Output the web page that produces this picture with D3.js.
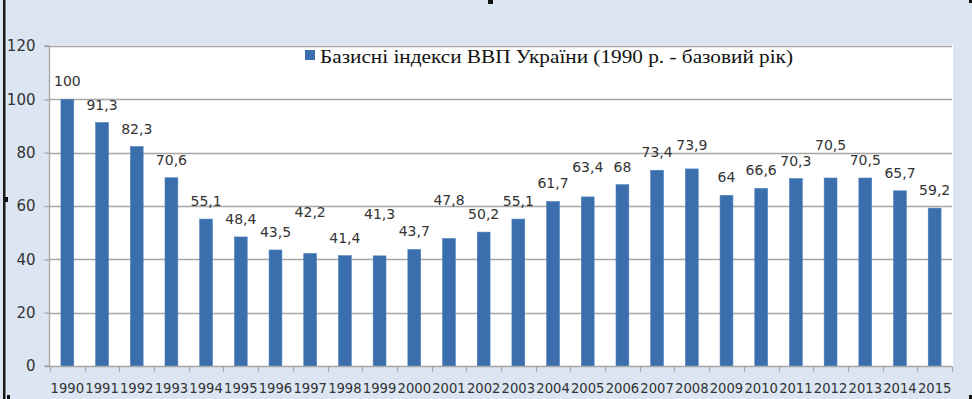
<!DOCTYPE html>
<html><head><meta charset="utf-8">
<script src="https://cdn.jsdelivr.net/npm/d3@7/dist/d3.min.js"></script>
<style>html,body{margin:0;padding:0;background:#dce6f2;overflow:hidden}</style>
</head><body>
<svg id="c" width="972" height="399"></svg>
<script>
const years = ["1990","1991","1992","1993","1994","1995","1996","1997","1998","1999","2000","2001","2002","2003","2004","2005","2006","2007","2008","2009","2010","2011","2012","2013","2014","2015"];
const values = [100,91.3,82.3,70.6,55.1,48.4,43.5,42.2,41.4,41.3,43.7,47.8,50.2,55.1,61.7,63.4,68,73.4,73.9,64,66.6,70.3,70.5,70.5,65.7,59.2];
const yTicks = [0,20,40,60,80,100,120];
const seriesName = "Базисні індекси ВВП України (1990 р. - базовий рік)";

// manual label lifts (px) as dragged in the original chart
const labelLift = {"1997":23,"1999":24,"2001":21,"2005":12,"2008":6,"2012":15};

const svg = d3.select("#c");
const W = 972, H = 399;
const L = 50, R = 952, T = 46, B = 366;
const sans = "DejaVu Sans, Verdana, sans-serif";

svg.append("rect").attr("width",W).attr("height",H).attr("fill","#dce6f2");
svg.append("rect").attr("x",L).attr("y",45).attr("width",R-L+1).attr("height",B-45).attr("fill","#ffffff");

const x = d3.scaleBand().domain(years).range([L,R]).paddingInner(0.63).paddingOuter(0.315);
const xs = d3.scaleBand().domain(years).range([L,R]).padding(0);
const y = d3.scaleLinear().domain([0,120]).range([B,T]);

// gridlines
svg.append("g").selectAll("line").data(yTicks.filter(d=>d>0)).join("line")
  .attr("x1",L).attr("x2",R).attr("y1",d=>Math.round(y(d))+0.5).attr("y2",d=>Math.round(y(d))+0.5)
  .attr("stroke","#a6a6a6").attr("stroke-width",1.3);

// bars
svg.append("g").selectAll("rect").data(values).join("rect")
  .attr("x",(d,i)=>x(years[i])).attr("width",x.bandwidth())
  .attr("y",d=>y(d)).attr("height",d=>B-y(d))
  .attr("fill","#3a6eac").attr("stroke","#4f81bd").attr("stroke-width",0.6);

// y axis
const ya = svg.append("g").attr("transform",`translate(${L-0.5},0)`)
  .call(d3.axisLeft(y).tickValues(yTicks).tickSize(5).tickPadding(9));
ya.select(".domain").attr("stroke","#a6a6a6").attr("stroke-width",1.3).attr("d",`M-5,${B}H0V${T}H-5`);
ya.selectAll(".tick line").attr("stroke","#a6a6a6").attr("stroke-width",1.3);
ya.selectAll(".tick text").attr("font-family",sans).attr("font-size",15).attr("fill","#333");

// x axis
const xa = svg.append("g").attr("transform",`translate(0,${B+0.5})`);
xa.append("line").attr("x1",L-5).attr("x2",R).attr("y1",0).attr("y2",0).attr("stroke","#a6a6a6").attr("stroke-width",1.3);
xa.selectAll("line.t").data(years.concat(["end"])).join("line").attr("class","t")
  .attr("x1",(d,i)=>Math.round(i<years.length?xs(d):R)+0.5).attr("x2",(d,i)=>Math.round(i<years.length?xs(d):R)+0.5)
  .attr("y1",0).attr("y2",5).attr("stroke","#a6a6a6").attr("stroke-width",1.3);
xa.selectAll("text").data(years).join("text")
  .attr("x",d=>xs(d)+xs.bandwidth()/2).attr("y",26.5).attr("text-anchor","middle")
  .attr("font-family",sans).attr("font-size",14).attr("fill","#333")
  .attr("textLength",33.5).attr("lengthAdjust","spacingAndGlyphs")
  .text(d=>d);

// data labels
svg.append("g").selectAll("text").data(values).join("text")
  .attr("x",(d,i)=>x(years[i])+x.bandwidth()/2)
  .attr("y",(d,i)=>y(d)-13-(labelLift[years[i]]||0))
  .attr("text-anchor","middle")
  .attr("font-family",sans).attr("font-size",14).attr("fill","#333")
  .text(d=>String(d).replace(".",","));

// legend
const lg = svg.append("g");
lg.append("rect").attr("x",305).attr("y",50).attr("width",10).attr("height",10).attr("fill","#3a6eac");
lg.append("text").attr("x",320).attr("y",63).attr("font-family","Liberation Serif, Times New Roman, serif")
  .attr("font-size",19.5).attr("fill","#111")
  .attr("textLength",473).attr("lengthAdjust","spacingAndGlyphs").text(seriesName);

// frame & selection handles
svg.append("rect").attr("x",3).attr("y",0).attr("width",2.5).attr("height",H).attr("fill","#1a1a1a");
const handles = [[488,0,5,4],[5,197,3,5],[7,395,3,4],[969,395,3,4],[969,0,3,3]];
svg.append("g").selectAll("rect").data(handles).join("rect")
  .attr("x",d=>d[0]).attr("y",d=>d[1]).attr("width",d=>d[2]).attr("height",d=>d[3]).attr("fill","#111");
</script>
</body></html>
